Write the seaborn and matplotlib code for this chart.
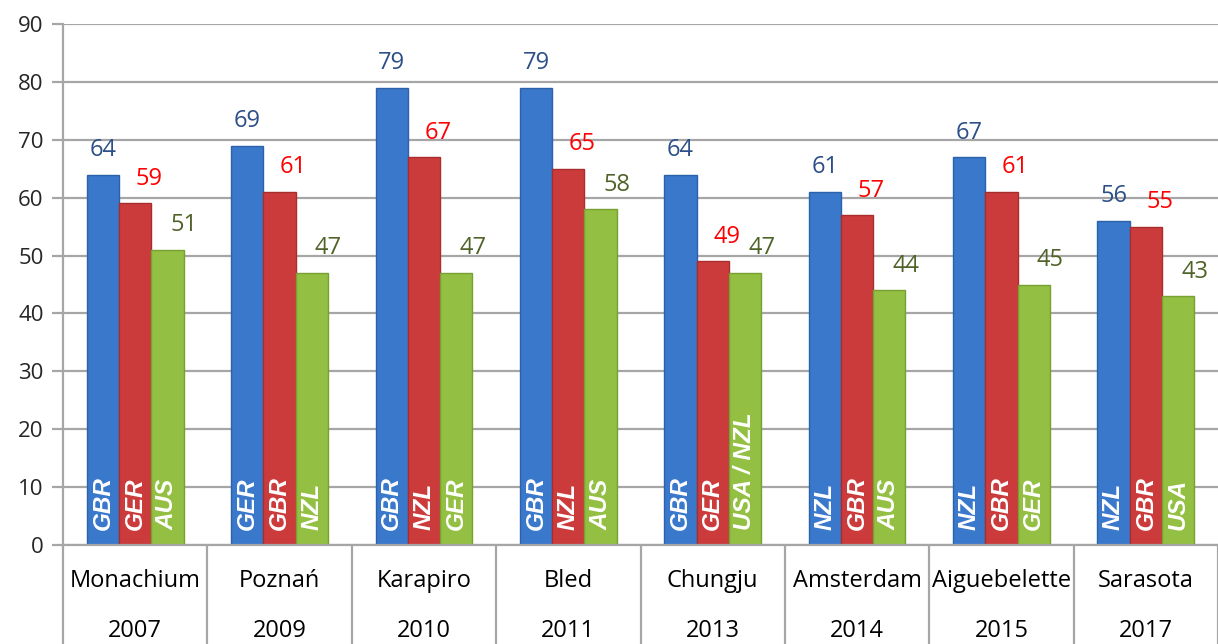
import numpy as np
import pandas as pd
import matplotlib
import matplotlib.pyplot as plt
import seaborn as sns

matplotlib.use("Agg")

# venues / years of the regattas
cities = ["Monachium", "Poznań", "Karapiro", "Bled", "Chungju",
          "Amsterdam", "Aiguebelette", "Sarasota"]
years = ["2007", "2009", "2010", "2011", "2013", "2014", "2015", "2017"]

# points of the 1st / 2nd / 3rd nation
first_pts = [64, 69, 79, 79, 64, 61, 67, 56]
second_pts = [59, 61, 67, 65, 49, 57, 61, 55]
third_pts = [51, 47, 47, 58, 47, 44, 45, 43]

first_nat = ["GBR", "GER", "GBR", "GBR", "GBR", "NZL", "NZL", "NZL"]
second_nat = ["GER", "GBR", "NZL", "NZL", "GER", "GBR", "GBR", "GBR"]
third_nat = ["AUS", "NZL", "GER", "AUS", "USA / NZL", "AUS", "GER", "USA"]

places = ["1", "2", "3"]
bar_colors = ["#3a78cc", "#cc3b3b", "#93bf43"]
edge_colors = ["#2d62aa", "#a82d2d", "#78a032"]
label_colors = ["#2b4f86", "#ff0000", "#4f6228"]

sns.set_style("white")
plt.rcParams["font.family"] = ["Open Sans", "DejaVu Sans"]

df = pd.DataFrame({
    "city": cities * 3,
    "place": np.repeat(places, len(cities)),
    "points": first_pts + second_pts + third_pts,
})

fig = plt.figure(figsize=(12.18, 6.44), dpi=100)
ax = fig.add_axes([63 / 1218, 99 / 644, 1155 / 1218, 521 / 644])

sns.barplot(data=df, x="city", y="points", hue="place", palette=bar_colors,
            width=0.67, dodge=True, legend=False, saturation=1,
            edgecolor="none", ax=ax)

ax.set_ylim(0, 90)
ax.set_xlim(-0.5, 7.5)
ax.set_yticks(range(0, 91, 10))
ax.yaxis.grid(True, color="#a6a6a6", lw=1.6)
ax.set_axisbelow(True)
for s in ["top", "right"]:
    ax.spines[s].set_visible(False)
ax.spines["left"].set_color("#a6a6a6")
ax.spines["left"].set_linewidth(1.6)
ax.spines["bottom"].set_color("#a6a6a6")
ax.spines["bottom"].set_linewidth(1.6)

ax.set_xticks(range(len(cities)),
              labels=[f"{c}\n{y}" for c, y in zip(cities, years)])
ax.set_xticks(np.arange(-0.5, len(cities), 1), minor=True)
ax.tick_params(axis="x", which="major", bottom=False, pad=14, labelsize=17,
               labelcolor="black")
ax.tick_params(axis="x", which="minor", bottom=True, length=100, width=1.6,
               color="#a6a6a6")
for t in ax.get_xticklabels():
    t.set_linespacing(2.45)
ax.tick_params(axis="y", left=True, length=8, width=1.6, color="#a6a6a6",
               labelsize=16, pad=6)
ax.set_xlabel("")
ax.set_ylabel("")

nations = [first_nat, second_nat, third_nat]
dx = [0, 10, 12]
for k, cont in enumerate(ax.containers):
    for j, bar in enumerate(cont.patches):
        bar.set_edgecolor(edge_colors[k])
        bar.set_linewidth(1.0)
        xc = bar.get_x() + bar.get_width() / 2
        h = bar.get_height()
        ax.annotate(str(int(h)), (xc, h), xytext=(dx[k], 9),
                    textcoords="offset points", ha="center", va="bottom",
                    color=label_colors[k], fontsize=17)
        ax.text(xc, 2.6, nations[k][j], rotation=90, ha="center",
                va="bottom", color="white", fontsize=17.5,
                fontweight="bold", fontstyle="italic",
                family=["Liberation Sans", "DejaVu Sans"])

fig.savefig("out.png", dpi=100)
